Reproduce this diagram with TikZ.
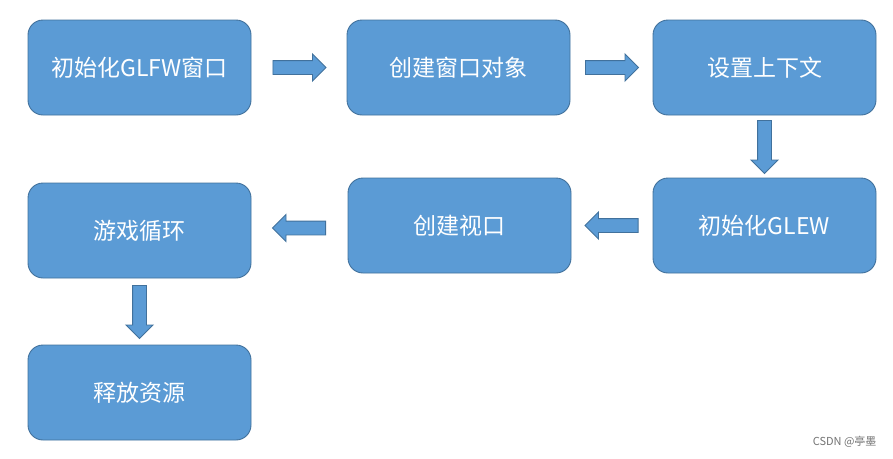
\documentclass[tikz,border=0pt]{standalone}
\usepackage{fontspec}
\newfontfamily\cjk{Noto Sans CJK SC}
\usetikzlibrary{shapes.arrows,calc}
\definecolor{boxblue}{HTML}{5B9BD5}
\definecolor{boxline}{HTML}{41719C}
\begin{document}
\begin{tikzpicture}[x=1pt,y=-1pt,
		box/.style={draw=boxline,fill=boxblue,line width=0.9pt,rounded corners=15pt,minimum width=223pt,minimum height=95pt,text=white,font=\cjk\fontsize{23}{27}\selectfont},
		blk/.style={single arrow,draw=boxline,fill=boxblue,line width=0.9pt,minimum height=53pt,inner sep=6.5pt,single arrow head extend=6.5pt,single arrow tip angle=90,anchor=tail}]
	\useasboundingbox (0,0) rectangle (893,458);
	\node[box](b1) at (139.5,67.5){初始化GLFW窗口};
	\node[box](b2) at (458.5,67.5){创建窗口对象};
	\node[box](b3) at (764.5,67.5){设置上下文};
	\node[box](b4) at (764.5,225.5){初始化GLEW};
	\node[box](b5) at (459.5,225.5){创建视口};
	\node[box](b6) at (139.5,230.5){游戏循环};
	\node[box](b7) at (139.5,392.5){释放资源};
	% block arrows between the boxes
	\node[blk,xshift=-26.5pt](a1) at ($(b1.east)!0.5!(b2.west)$){};
	\node[blk,xshift=-26.5pt](a2) at ($(b2.east)!0.5!(b3.west)$){};
	\node[blk,shape border rotate=270,yshift=26.5pt](a3) at ($(b3.south)!0.5!(b4.north)$){};
	\node[blk,shape border rotate=180,xshift=26.5pt](a4) at ($(b4.west)!0.5!(b5.east)$){};
	\node[blk,shape border rotate=180,xshift=26.5pt](a5) at ($(b5.west)!0.5!(b6.east)$){};
	\node[blk,shape border rotate=270,yshift=26.5pt](a6) at ($(b6.south)!0.5!(b7.north)$){};
	\node[anchor=east,text=black!55,font=\cjk\fontsize{11}{13}\selectfont](wm) at (880,442){CSDN @亭墨};
\end{tikzpicture}
\end{document}
